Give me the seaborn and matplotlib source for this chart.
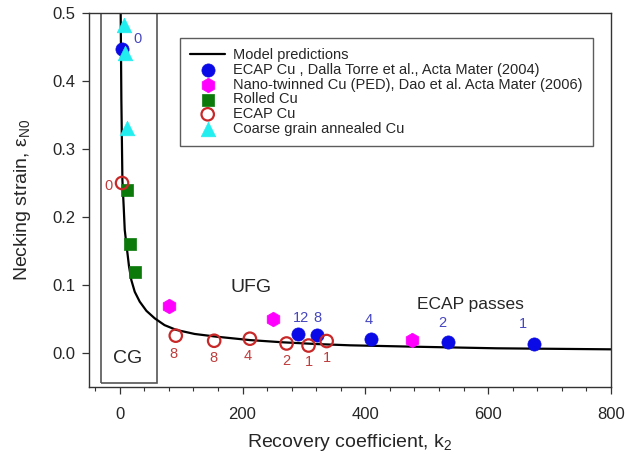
import numpy as np
import pandas as pd
import matplotlib
matplotlib.use("Agg")
import matplotlib.pyplot as plt
from matplotlib.patches import Rectangle
from matplotlib.ticker import MultipleLocator, FormatStrFormatter
import seaborn as sns

# ---------------- data ----------------
k2_model = [1.6, 2.7, 4.4, 6.5, 8.2, 11.4, 15.2, 19, 24.5, 32.6, 43.5, 57,
            73, 92, 122, 157.6, 212, 266, 320, 375, 478, 614, 800]
eps_model = [0.50, 0.372, 0.254, 0.215, 0.181, 0.156, 0.127, 0.107, 0.090,
             0.0755, 0.062, 0.051, 0.041, 0.034, 0.028, 0.024, 0.019,
             0.0157, 0.0132, 0.0113, 0.0093, 0.0069, 0.0054]

k2_dalla = [4.4, 290.7, 320.6, 410, 535, 675]
eps_dalla = [0.447, 0.028, 0.0265, 0.020, 0.0166, 0.013]
lab_dalla = ["0", "12", "8", "4", "2", "1"]

k2_nano = [80.4, 249, 476.5]
eps_nano = [0.0696, 0.0495, 0.019]

k2_rolled = [12, 17.4, 24.5]
eps_rolled = [0.24, 0.16, 0.1196]

k2_ecap = [3.8, 91.3, 153.8, 212, 271.7, 307.5, 337]
eps_ecap = [0.25, 0.0255, 0.018, 0.021, 0.014, 0.011, 0.0176]
lab_ecap = ["0", "8", "8", "4", "2", "1", "1"]

k2_coarse = [6.5, 8, 12]
eps_coarse = [0.482, 0.4416, 0.331]

series_names = ["Model predictions",
                "ECAP Cu , Dalla Torre et al., Acta Mater (2004)",
                "Nano-twinned Cu (PED), Dao et al. Acta Mater (2006)",
                "Rolled Cu",
                "ECAP Cu",
                "Coarse grain annealed Cu"]

# ---------------- style ----------------
sns.set_theme(style="ticks")
plt.rcParams["font.family"] = ["Liberation Sans", "DejaVu Sans"]
plt.rcParams["mathtext.default"] = "regular"
plt.rcParams["mathtext.fontset"] = "custom"
plt.rcParams["mathtext.rm"] = "Liberation Sans"
plt.rcParams["mathtext.it"] = "Liberation Sans:italic"

fig = plt.figure(figsize=(6.26, 4.54), dpi=100)
W, H = 626, 454
ax = fig.add_axes([89 / W, 1 - 387 / H, (611 - 89) / W, (387 - 13) / H])

blue = "#0a0ae6"
blue_lab = "#4646c0"
mag = "#ff00ff"
green = "#0b7a0b"
red = "#c82828"
red_lab = "#c03c3c"
cyan = "#22eef0"

df_model = pd.DataFrame({"k2": k2_model, "eps": eps_model})
sns.lineplot(data=df_model, x="k2", y="eps", color="black", linewidth=1.6,
             ax=ax, label=series_names[0], sort=False)

sns.scatterplot(x=k2_dalla, y=eps_dalla, marker="o", color=blue,
                edgecolor=blue, s=90, linewidth=0.5, ax=ax,
                label=series_names[1], zorder=4)
sns.scatterplot(x=k2_nano, y=eps_nano, marker="h", color=mag, edgecolor=mag,
                s=110, linewidth=0.5, ax=ax, label=series_names[2], zorder=4)
sns.scatterplot(x=k2_rolled, y=eps_rolled, marker="s", color=green,
                edgecolor=green, s=72, linewidth=0.5, ax=ax,
                label=series_names[3], zorder=4)
sns.scatterplot(x=k2_ecap, y=eps_ecap, marker="o", facecolors="none",
                edgecolor=red, color=red, s=80, linewidth=1.6, ax=ax,
                label=series_names[4], zorder=5)
sns.scatterplot(x=k2_coarse, y=eps_coarse, marker="^", color=cyan,
                edgecolor=cyan, s=110, linewidth=0.5, ax=ax,
                label=series_names[5], zorder=4)

# pass-number labels (offsets in pixels)
dalla_off = [(15, 10), (3, 16), (1, 17), (-3, 19), (-6, 19), (-11, 20)]
for x, y, t, (dx, dy) in zip(k2_dalla, eps_dalla, lab_dalla, dalla_off):
    ax.annotate(t, (x, y), xytext=(dx, dy), textcoords="offset pixels",
                ha="center", va="center", fontsize=10.5, color=blue_lab)
ecap_off = [(-14, -3), (-2, -18), (-1, -17), (-2, -17), (0, -18), (0, -16), (0, -17)]
for x, y, t, (dx, dy) in zip(k2_ecap, eps_ecap, lab_ecap, ecap_off):
    ax.annotate(t, (x, y), xytext=(dx, dy), textcoords="offset pixels",
                ha="center", va="center", fontsize=10.5, color=red_lab)

# CG box and region labels
ax.add_patch(Rectangle((-31, -0.044), 91, 0.6, fill=False,
                       edgecolor="#555555", linewidth=1.2, zorder=1))
ax.text(13.5, -0.0085, "CG", ha="center", va="center", fontsize=14)
ax.text(213.5, 0.097, "UFG", ha="center", va="center", fontsize=14)
ax.text(570.5, 0.0706, "ECAP passes", ha="center", va="center", fontsize=12.5)

# axes
ax.set_xlim(-50, 800)
ax.set_ylim(-0.05, 0.5)
ax.xaxis.set_major_locator(MultipleLocator(200))
ax.xaxis.set_minor_locator(MultipleLocator(40))
ax.yaxis.set_major_locator(MultipleLocator(0.1))
ax.yaxis.set_major_formatter(FormatStrFormatter("%.1f"))
ax.tick_params(axis="both", which="major", direction="out", length=5,
               width=0.9, labelsize=12, color="#333333")
ax.tick_params(axis="x", which="major", pad=9.5)
ax.tick_params(axis="y", which="major", pad=5)
ax.tick_params(axis="x", which="minor", direction="out", length=3, width=0.8,
               color="#333333")
for sp in ax.spines.values():
    sp.set_visible(True)
    sp.set_color("#333333")
    sp.set_linewidth(1.0)

ax.set_xlabel("Recovery coefficient, k$_{2}$", fontsize=14, labelpad=7)
ax.set_ylabel("Necking strain, ε$_{N0}$", fontsize=14, labelpad=14)

# legend
handles, labels = ax.get_legend_handles_labels()
order = [labels.index(n) for n in series_names]
leg = ax.legend([handles[i] for i in order], [labels[i] for i in order],
                loc="upper left", bbox_to_anchor=(180 / W, 1 - 38 / H),
                bbox_transform=fig.transFigure, borderaxespad=0,
                fontsize=10.5, frameon=True, fancybox=False, shadow=False,
                handlelength=2.4, handletextpad=0.55, labelspacing=0.05,
                borderpad=0.7, scatterpoints=1)
leg.get_frame().set_edgecolor("#333333")
leg.get_frame().set_linewidth(1.0)

fig.savefig("out.png", dpi=100)
